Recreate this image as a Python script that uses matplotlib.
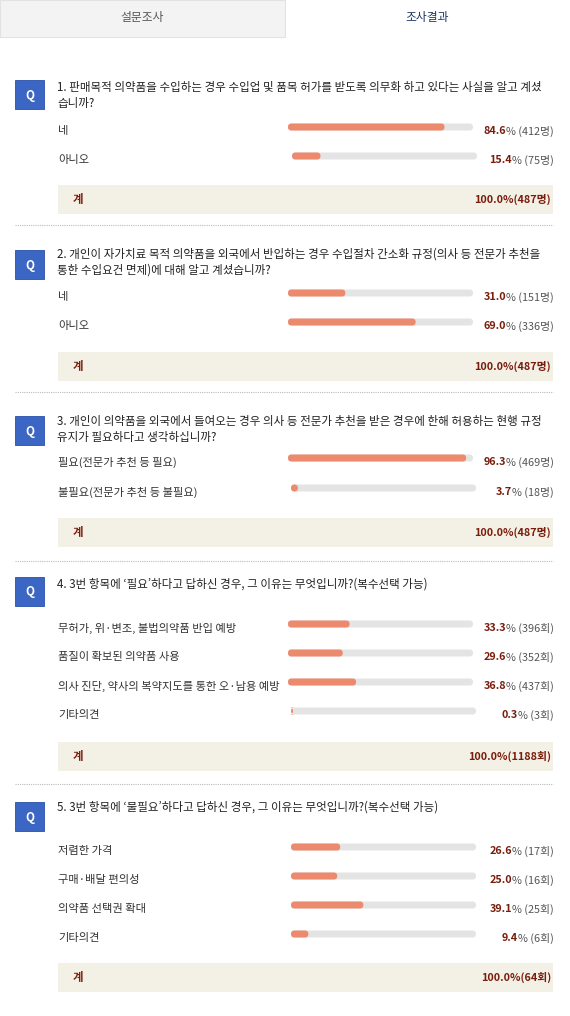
import matplotlib
matplotlib.use("Agg")
import matplotlib.pyplot as plt
from matplotlib.patches import FancyBboxPatch, Rectangle

plt.rcParams['font.family'] = ['Noto Sans CJK KR', 'DejaVu Sans']

questions = [
    ["1. 판매목적 의약품을 수입하는 경우 수입업 및 품목 허가를 받도록 의무화 하고 있다는 사실을 알고 계셨", "습니까?"],
    ["2. 개인이 자가치료 목적 의약품을 외국에서 반입하는 경우 수입절차 간소화 규정(의사 등 전문가 추천을", "통한 수입요건 면제)에 대해 알고 계셨습니까?"],
    ["3. 개인이 의약품을 외국에서 들여오는 경우 의사 등 전문가 추천을 받은 경우에 한해 허용하는 현행 규정", "유지가 필요하다고 생각하십니까?"],
    ["4. 3번 항목에 ‘필요’하다고 답하신 경우, 그 이유는 무엇입니까?(복수선택 가능)"],
    ["5. 3번 항목에 ‘불필요’하다고 답하신 경우, 그 이유는 무엇입니까?(복수선택 가능)"],
]
options = [
    ["네", "아니오"],
    ["네", "아니오"],
    ["필요(전문가 추천 등 필요)", "불필요(전문가 추천 등 불필요)"],
    ["무허가, 위·변조, 불법의약품 반입 예방", "품질이 확보된 의약품 사용", "의사 진단, 약사의 복약지도를 통한 오·남용 예방", "기타의견"],
    ["저렴한 가격", "구매·배달 편의성", "의약품 선택권 확대", "기타의견"],
]
percents = [[84.6, 15.4], [31.0, 69.0], [96.3, 3.7], [33.3, 29.6, 36.8, 0.3], [26.6, 25.0, 39.1, 9.4]]
counts = [[412, 75], [151, 336], [469, 18], [396, 352, 437, 3], [17, 16, 25, 6]]
units = ["명", "명", "명", "회", "회"]
totals = [487, 487, 487, 1188, 64]

# layout (pixels)
icon_y = [80, 250, 416, 577, 802]
text_y = [88, 254, 421, 584, 807]
row_y = [[127, 156], [293, 322], [458, 488], [624, 653, 682, 711], [847, 876, 905, 934]]
track_x = [[288, 292], [288, 288], [288, 291], [288, 288, 288, 291], [291, 291, 291, 291]]
box_y = [185, 352, 518, 742, 963]
sep_y = [225, 392, 561, 784]

fig = plt.figure(figsize=(5.7, 10.16), dpi=100)
ax = fig.add_axes([0, 0, 1, 1])
ax.set_xlim(0, 570); ax.set_ylim(1016, 0); ax.axis('off')

DARK = "#7a1c0c"; GREY = "#555555"; TXT = "#333333"

# tabs
ax.add_patch(Rectangle((0, 0), 285, 37, facecolor="#f3f3f3", edgecolor="#e2e2e2", lw=0.8))
ax.text(142, 17, "설문조사", ha='center', va='center', fontsize=8.5, color="#555555")
ax.text(427, 17, "조사결과", ha='center', va='center', fontsize=8.5, color="#1a3563", fontweight='medium')

fig.canvas.draw()
rend = fig.canvas.get_renderer()
inv = ax.transData.inverted()

for qi in range(5):
    iy = icon_y[qi]
    ax.add_patch(Rectangle((15, iy), 29, 29, facecolor="#3b66c4", edgecolor="#2a50a8", lw=0.6))
    ax.text(29.5, iy + 15, "Q", ha='center', va='center', fontsize=8.5, color='white', fontweight='bold')
    for li, line in enumerate(questions[qi]):
        ax.text(57, text_y[qi] + li * 16, line, ha='left', va='center', fontsize=8.3, color="#222222", fontweight='medium')
    for oi, opt in enumerate(options[qi]):
        ry = row_y[qi][oi]
        tx = track_x[qi][oi]
        ax.text(58, ry + 4, opt, ha='left', va='center', fontsize=8.1, color=TXT)
        ax.add_patch(FancyBboxPatch((tx, ry - 3.5), 185, 7, boxstyle="round,pad=0,rounding_size=3.5",
                                    facecolor="#e4e4e4", edgecolor='none'))
        w = max(185 * percents[qi][oi] / 100, 2)
        ax.add_patch(FancyBboxPatch((tx, ry - 3.5), w, 7, boxstyle="round,pad=0,rounding_size=3.5",
                                    facecolor="#ec8a6e", edgecolor='none'))
        t2 = ax.text(554, ry + 4, f"% ({counts[qi][oi]}{units[qi]})", ha='right', va='center', fontsize=7.8, color=GREY)
        bb = t2.get_window_extent(rend)
        x0 = inv.transform((bb.x0, 0))[0]
        ax.text(x0, ry + 4, f"{percents[qi][oi]:.1f}", ha='right', va='center', fontsize=7.8, color=DARK, fontweight='bold')
    by = box_y[qi]
    ax.add_patch(Rectangle((58, by), 495, 29, facecolor="#f3f1e6", edgecolor='none'))
    ax.text(73, by + 14.5, "계", ha='left', va='center', fontsize=8.2, color=DARK, fontweight='bold')
    ax.text(551, by + 14.5, f"100.0%({totals[qi]}{units[qi]})", ha='right', va='center', fontsize=7.8, color=DARK, fontweight='bold')

for sy in sep_y:
    ax.plot([15, 553], [sy, sy], color="#bbbbbb", lw=0.8, ls=(0, (1, 1)))

fig.savefig("out.png", dpi=100, facecolor='white')
